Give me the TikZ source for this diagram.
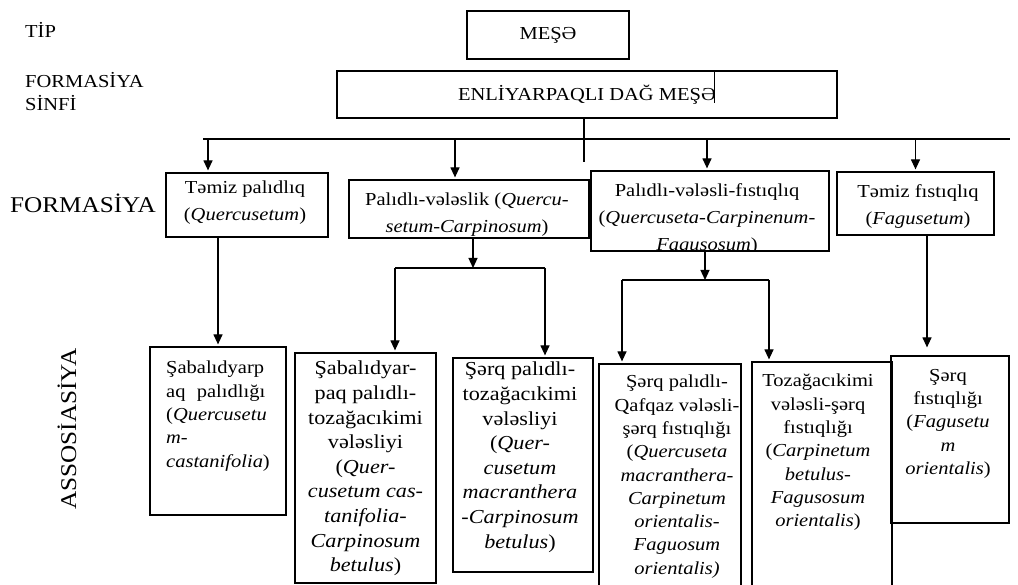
\documentclass[tikz,border=0pt]{standalone}
\usepackage{fontspec}
\setmainfont{Liberation Serif}[FakeStretch=1.12]
\usetikzlibrary{arrows.meta}

\begin{document}
\begin{tikzpicture}[x=1pt, y=-1pt,
    box/.style={draw, line width=1.2pt, inner sep=0pt},
    txt/.style={inner sep=0pt, align=center, font=\fontsize{18.3}{23.3}\selectfont},
    widetxt/.style={txt, font=\fontsize{19.8}{24.6}\selectfont},
    ftxt/.style={inner sep=0pt, align=center, font=\fontsize{18.3}{27}\selectfont},
    lbl/.style={inner sep=0pt, align=left, font=\fontsize{18.3}{23}\selectfont},
    biglbl/.style={inner sep=0pt, font=\fontsize{22.5}{26}\selectfont},
    ln/.style={line width=1.2pt},
    arr/.style={line width=1.2pt, -{Triangle[length=10pt,width=9pt]}, shorten >=2pt}]
  \useasboundingbox (0,0) rectangle (1018,585);

  % level labels
  \node[lbl, anchor=west] (tip) at (25,30) {TİP};
  \node[lbl, anchor=north west] (sinif) at (25,72) {FORMASİYA\\SİNFİ};
  \node[biglbl, anchor=west] (form) at (10,203) {FORMASİYA};
  \node[biglbl, rotate=90] (assos) at (67,429) {ASSOSİASİYA};

  % type and class
  \node[box, minimum width=162pt, minimum height=48pt, font=\fontsize{18.3}{22}\selectfont] (mese) at (548,35) {MEŞƏ};
  \node[box, minimum width=500pt, minimum height=47pt, font=\fontsize{18.3}{22}\selectfont] (enl) at (587,94.5) {ENLİYARPAQLI DAĞ MEŞƏ};
  \draw[line width=0.9pt] (714,71) -- (714,103);

  % formations
  \node[box, minimum width=162pt, minimum height=64pt] (f1) at (247,205) {};
  \node[box, minimum width=240pt, minimum height=58pt] (f2) at (469,209) {};
  \node[box, minimum width=238pt, minimum height=80pt] (f3) at (710,211) {};
  \node[box, minimum width=157pt, minimum height=63pt] (f4) at (915.5,203.5) {};
  \node[ftxt, anchor=north] (f1t) at (245,181) {Təmiz palıdlıq\\(\textit{Quercusetum})};
  \begin{scope}
    \clip (f2.north west) rectangle (f2.south east);
    \node[ftxt, anchor=north] (f2t) at (467,193) {Palıdlı-vələslik (\textit{Quercu-}\\\textit{setum-Carpinosum})};
  \end{scope}
  \begin{scope}
    \clip (f3.north west) rectangle (f3.south east);
    \node[ftxt, anchor=north] (f3t) at (707,183) {Palıdlı-vələsli-fıstıqlıq\\(\textit{Quercuseta-Carpinenum-}\\\textit{Fagusosum})};
  \end{scope}
  \node[ftxt, anchor=north] (f4t) at (918,184) {Təmiz fıstıqlıq\\(\textit{Fagusetum})};

  % associations
  \node[box, minimum width=136pt, minimum height=168pt] (a1) at (218,431) {};
  \node[box, minimum width=141pt, minimum height=230pt] (a2) at (365.5,468) {};
  \node[box, minimum width=140pt, minimum height=214pt] (a3) at (523,465) {};
  \node[box, minimum width=142pt, minimum height=228pt] (a4) at (670,478) {};
  \node[box, minimum width=140pt, minimum height=230pt] (a5) at (822,477) {};
  \node[box, minimum width=118pt, minimum height=167pt] (a6) at (950,439.5) {};

  \node[txt, align=left, anchor=north west] (a1t) at (166,361) {Şabalıdyarp\\\makebox[99pt][s]{aq palıdlığı}\\(\textit{Quercusetu}\\\textit{m-}\\\textit{castanifolia})};
  \node[widetxt, anchor=north] (a2t) at (365.5,361) {Şabalıdyar-\\paq palıdlı-\\tozağacıkimi\\vələsliyi\\(\textit{Quer-}\\\textit{cusetum cas-}\\\textit{tanifolia-}\\\textit{Carpinosum}\\\textit{betulus})};
  \node[widetxt, anchor=north] (a3t) at (520,362) {Şərq palıdlı-\\tozağacıkimi\\vələsliyi\\(\textit{Quer-}\\\textit{cusetum}\\\textit{macranthera}\\\textit{-Carpinosum}\\\textit{betulus})};
  \node[txt, anchor=north] (a4t) at (677,375) {Şərq palıdlı-\\Qafqaz vələsli-\\şərq fıstıqlığı\\(\textit{Quercuseta}\\\textit{macranthera-}\\\textit{Carpinetum}\\\textit{orientalis-}\\\textit{Faguosum}\\\textit{orientalis)}};
  \node[txt, anchor=north] (a5t) at (818,374) {Tozağacıkimi\\vələsli-şərq\\fıstıqlığı\\(\textit{Carpinetum}\\\textit{betulus-}\\\textit{Fagusosum}\\\textit{orientalis})};
  \node[txt, anchor=north] (a6t) at (948,369) {Şərq\\fıstıqlığı\\(\textit{Fagusetu}\\\textit{m}\\\textit{orientalis})};

  % connectors
  \coordinate (busL) at (203,139);
  \coordinate (busR) at (1010,139);
  \coordinate (trunk) at (584,162);
  \draw[ln] (busL) -- (busR);
  \draw[ln] ([xshift=-3pt]enl.south) -- (trunk);
  \draw[arr] ([xshift=-39pt]f1.north |- busL) -- ([xshift=-39pt]f1.north);
  \draw[arr] ([xshift=-14pt]f2.north |- busL) -- ([xshift=-14pt]f2.north);
  \draw[arr] ([xshift=-3pt]f3.north |- busL) -- ([xshift=-3pt]f3.north);
  \draw[arr] (f4.north |- busL) -- (f4.north);

  \draw[arr] (a1.north |- f1.south) -- (a1.north);

  \coordinate (f2L) at (395,268);
  \coordinate (f2R) at (545,268);
  \draw[arr, shorten >=0pt] ([xshift=4pt]f2.south) -- ([xshift=4pt]f2.south |- f2L);
  \draw[ln] (f2L) -- (f2R);
  \draw[arr] (f2L) -- (f2L |- a2.north);
  \draw[arr] (f2R) -- (f2R |- a3.north);

  \coordinate (f3L) at (622,280);
  \coordinate (f3R) at (769,280);
  \draw[arr, shorten >=0pt] ([xshift=-5pt]f3.south) -- ([xshift=-5pt]f3.south |- f3L);
  \draw[ln] (f3L) -- (f3R);
  \draw[arr] (f3L) -- (f3L |- a4.north);
  \draw[arr] (f3R) -- (f3R |- a5.north);

  \draw[arr, shorten >=8pt] ([xshift=11.5pt]f4.south) -- ([xshift=11.5pt]f4.south |- a6.north);
\end{tikzpicture}
\end{document}
